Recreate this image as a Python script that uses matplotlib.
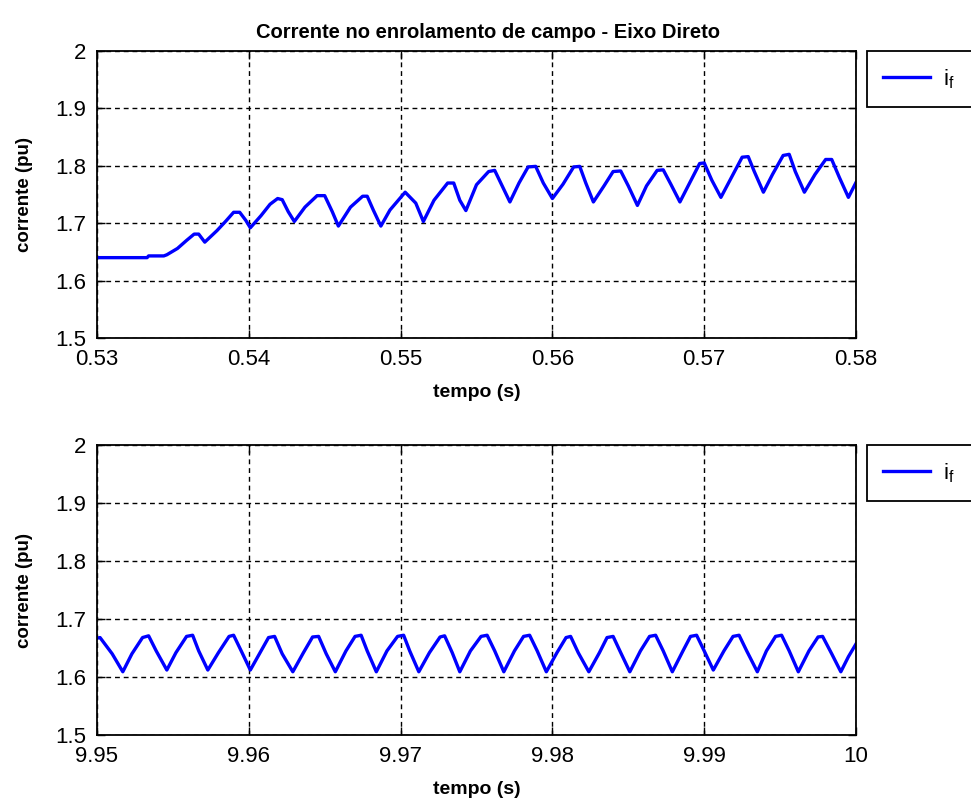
import matplotlib
matplotlib.use('Agg')
import matplotlib.pyplot as plt
from matplotlib.ticker import FixedLocator, FormatStrFormatter

# top panel: start of the transient (0.53 - 0.58 s)
t_top = [0.5300, 0.5333, 0.5334, 0.5344, 0.5346, 0.5353, 0.5359, 0.5364, 0.5367, 0.5371,
         0.5379, 0.5385, 0.5390, 0.5394, 0.5398, 0.5401, 0.5408, 0.5414, 0.5419, 0.5422,
         0.5426, 0.5430, 0.5437, 0.5445, 0.5450, 0.5455, 0.5459, 0.5467, 0.5475, 0.5478,
         0.5482, 0.5487, 0.5493, 0.5503, 0.5510, 0.5515, 0.5522, 0.5531, 0.5535, 0.5539,
         0.5543, 0.5550, 0.5558, 0.5562, 0.5566, 0.5572, 0.5578, 0.5584, 0.5589, 0.5594,
         0.5600, 0.5607, 0.5614, 0.5618, 0.5622, 0.5627, 0.5634, 0.5640, 0.5645, 0.5650,
         0.5656, 0.5662, 0.5669, 0.5673, 0.5678, 0.5684, 0.5690, 0.5697, 0.5700, 0.5705,
         0.5711, 0.5718, 0.5725, 0.5729, 0.5733, 0.5739, 0.5745, 0.5752, 0.5756, 0.5760,
         0.5766, 0.5773, 0.5780, 0.5784, 0.5789, 0.5795, 0.5800]
if_top = [1.640, 1.640, 1.643, 1.643, 1.645, 1.656, 1.670, 1.681, 1.681, 1.667,
          1.687, 1.704, 1.719, 1.719, 1.705, 1.692, 1.713, 1.733, 1.743, 1.741,
          1.720, 1.703, 1.728, 1.748, 1.748, 1.720, 1.695, 1.728, 1.747, 1.747,
          1.723, 1.695, 1.723, 1.754, 1.735, 1.703, 1.740, 1.770, 1.770, 1.740,
          1.722, 1.767, 1.790, 1.792, 1.770, 1.737, 1.770, 1.798, 1.799, 1.770,
          1.743, 1.768, 1.798, 1.799, 1.770, 1.737, 1.765, 1.790, 1.791, 1.765,
          1.731, 1.765, 1.792, 1.793, 1.768, 1.737, 1.768, 1.804, 1.805, 1.775,
          1.745, 1.780, 1.815, 1.816, 1.790, 1.754, 1.785, 1.818, 1.820, 1.790,
          1.754, 1.785, 1.811, 1.811, 1.780, 1.745, 1.771]

# bottom panel: steady state (9.95 - 10 s)
t_bot = [9.9500, 9.9502, 9.9510, 9.9517, 9.9523, 9.9530, 9.9534, 9.9539, 9.9546, 9.9552,
         9.9559, 9.9563, 9.9567, 9.9573, 9.9580, 9.9587, 9.9590, 9.9595, 9.9601, 9.9607,
         9.9613, 9.9617, 9.9622, 9.9629, 9.9636, 9.9642, 9.9646, 9.9651, 9.9657, 9.9664,
         9.9670, 9.9674, 9.9678, 9.9684, 9.9691, 9.9698, 9.9702, 9.9706, 9.9712, 9.9719,
         9.9726, 9.9729, 9.9734, 9.9739, 9.9746, 9.9753, 9.9757, 9.9762, 9.9768, 9.9775,
         9.9781, 9.9785, 9.9790, 9.9796, 9.9803, 9.9809, 9.9812, 9.9817, 9.9824, 9.9831,
         9.9836, 9.9840, 9.9845, 9.9851, 9.9858, 9.9864, 9.9868, 9.9873, 9.9879, 9.9886,
         9.9891, 9.9895, 9.9900, 9.9906, 9.9913, 9.9919, 9.9923, 9.9928, 9.9935, 9.9941,
         9.9947, 9.9951, 9.9956, 9.9962, 9.9969, 9.9975, 9.9978, 9.9984, 9.9990, 9.9995,
         10.0000]
if_bot = [1.667, 1.668, 1.640, 1.609, 1.640, 1.668, 1.671, 1.645, 1.612, 1.642,
          1.670, 1.672, 1.645, 1.612, 1.642, 1.670, 1.672, 1.645, 1.612, 1.640,
          1.668, 1.670, 1.640, 1.609, 1.642, 1.669, 1.670, 1.640, 1.609, 1.645,
          1.670, 1.672, 1.645, 1.609, 1.645, 1.670, 1.672, 1.645, 1.609, 1.642,
          1.669, 1.671, 1.642, 1.609, 1.645, 1.670, 1.672, 1.645, 1.609, 1.645,
          1.670, 1.672, 1.645, 1.609, 1.642, 1.668, 1.670, 1.642, 1.609, 1.642,
          1.668, 1.670, 1.642, 1.609, 1.645, 1.670, 1.672, 1.645, 1.609, 1.645,
          1.670, 1.672, 1.645, 1.612, 1.645, 1.670, 1.672, 1.645, 1.609, 1.645,
          1.670, 1.672, 1.645, 1.609, 1.645, 1.669, 1.670, 1.640, 1.609, 1.635,
          1.657]

xticks_top = [0.53, 0.54, 0.55, 0.56, 0.57, 0.58]
xticks_bot = [9.95, 9.96, 9.97, 9.98, 9.99, 10.0]
yticks = [1.5, 1.6, 1.7, 1.8, 1.9, 2.0]

title = 'Corrente no enrolamento de campo - Eixo Direto'
plt.rcParams['font.family'] = ['Liberation Sans', 'DejaVu Sans']
plt.rcParams['mathtext.default'] = 'regular'

W, H = 971, 809
fig = plt.figure(figsize=(W / 100, H / 100), dpi=100)

# axes boxes in pixels: left, top, right, bottom
boxes = [(97, 51, 856, 338), (97, 445, 856, 735)]
panels = [(t_top, if_top, xticks_top), (t_bot, if_bot, xticks_bot)]

for (l, t, r, b), (tt, ii, xt) in zip(boxes, panels):
    ax = fig.add_axes([l / W, 1 - b / H, (r - l) / W, (b - t) / H])
    ax.plot(tt, ii, color='#0000ff', linewidth=2.4, label='$i_f$')
    ax.set_xlim(xt[0], xt[-1])
    ax.set_ylim(1.5, 2.0)
    ax.xaxis.set_major_locator(FixedLocator(xt))
    ax.yaxis.set_major_locator(FixedLocator(yticks))
    ax.xaxis.set_major_formatter(FormatStrFormatter('%g'))
    ax.yaxis.set_major_formatter(FormatStrFormatter('%g'))
    ax.grid(True, color='black', linestyle=(0, (3.5, 2.8)), linewidth=1.0)
    ax.tick_params(direction='in', length=6, width=1.0, top=True, right=True,
                   labelsize=16, pad=8, colors='black')
    for s in ax.spines.values():
        s.set_linewidth(1.3)
    ax.set_xlabel('tempo (s)', fontsize=14, fontweight='bold', labelpad=10)
    ax.set_ylabel('corrente (pu)', fontsize=13.5, fontweight='bold', labelpad=16)
    # legend sits right of the axes and runs off the figure edge
    leg = ax.legend(loc='upper left', bbox_to_anchor=(867 / W, 1 - t / H - 0.2, 0.25, 0.2),
                    bbox_transform=fig.transFigure, mode='expand', borderaxespad=0,
                    fontsize=16, handlelength=2.1, handletextpad=0.6, borderpad=0.72,
                    fancybox=False, framealpha=1)
    leg.get_frame().set_edgecolor('black')
    leg.get_frame().set_linewidth(1.3)
    if t == 51:
        ax.set_title(title, fontsize=14.5, fontweight='bold', pad=9, x=0.515)

plt.savefig('out.png', dpi=100)
